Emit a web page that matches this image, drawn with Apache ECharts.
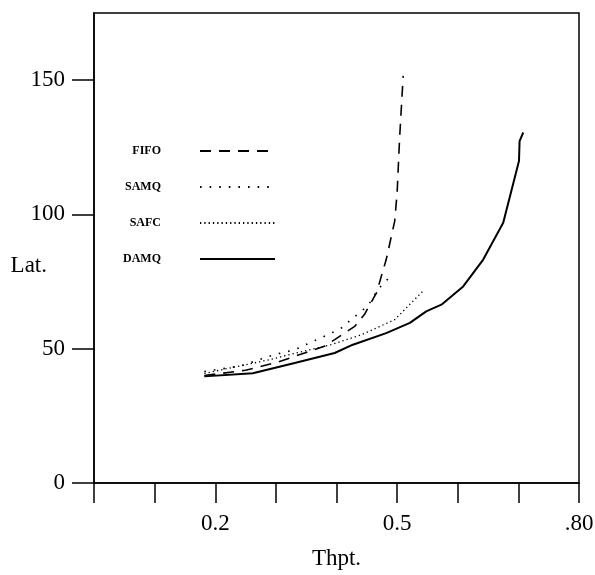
<!DOCTYPE html>
<html>
<head>
<meta charset="utf-8">
<script src="https://cdn.jsdelivr.net/npm/echarts@6/dist/echarts.min.js"></script>
<style>html,body{margin:0;padding:0;background:#fff}#c{width:595px;height:575px}</style>
</head>
<body>
<div id="c"></div>
<script>
var seriesNames = ['FIFO', 'SAMQ', 'SAFC', 'DAMQ'];
var fifoData = [[0.182,40.0],[0.25,42.0],[0.30,44.8],[0.35,48.6],[0.38,50.9],[0.397,53.4],[0.43,58.3],[0.446,62.7],[0.466,70.8],[0.482,83.2],[0.496,97.5],[0.500,108.1],[0.504,128.0],[0.510,151.6]];
var samqData = [[0.182,41.5],[0.242,43.6],[0.298,47.8],[0.331,49.6],[0.355,52.1],[0.386,55.2],[0.408,57.7],[0.424,60.8],[0.452,66.0],[0.468,72.0],[0.488,76.7]];
var safcData = [[0.182,40.8],[0.289,45.9],[0.344,49.0],[0.391,51.5],[0.441,55.2],[0.496,60.8],[0.523,67.0],[0.545,72.0]];
var damqData = [[0.182,39.7],[0.262,40.9],[0.331,44.7],[0.397,48.4],[0.427,51.5],[0.482,55.8],[0.521,59.6],[0.548,63.9],[0.573,66.4],[0.609,73.2],[0.642,83.2],[0.675,96.9],[0.689,109.3],[0.701,119.9],[0.702,127.3],[0.708,130.5]];
var xTickLabels = {'0.2':'0.2','0.5':'0.5','0.8':'.80'};
var yTickLabels = [0, 50, 100, 150];

var serif = 'Liberation Serif';
var chart = echarts.init(document.getElementById('c'), null, {renderer:'canvas'});
function mk(name, data, lineType, width) {
  return {name:name, type:'line', data:data, showSymbol:false, symbol:'none', smooth:false,
    lineStyle:{color:'#000', width:width, type:lineType}, itemStyle:{color:'#000'}};
}
chart.setOption({
  animation:false,
  backgroundColor:'#fff',
  grid:{left:94, right:16, top:13, bottom:92, containLabel:false, outerBoundsMode:'none',
    show:true, borderColor:'#000', borderWidth:1.5},
  legend:{
    orient:'vertical', left:118, top:140, align:'right', itemWidth:75, itemHeight:14, itemGap:24,
    data:seriesNames,
    itemStyle:{opacity:0},
    textStyle:{fontFamily:serif, fontSize:12, fontWeight:'bold', color:'#000', width:75, align:'center', padding:[0,34,0,0]}
  },
  xAxis:{
    type:'value', min:0, max:0.8, interval:0.1,
    name:'Thpt.', nameLocation:'middle', nameGap:64,
    nameTextStyle:{fontFamily:serif, fontSize:23, color:'#000'},
    axisLine:{lineStyle:{color:'#000', width:1.5}},
    axisTick:{inside:false, length:20, lineStyle:{color:'#000', width:1.5}},
    axisLabel:{fontFamily:serif, fontSize:23, color:'#000', margin:29,
      formatter:function(v){var k=(Math.round(v*10)/10).toString(); return xTickLabels[k]||'';}},
    splitLine:{show:false}
  },
  yAxis:{
    type:'value', min:0, max:175, interval:50,
    name:'Lat.', nameLocation:'middle', nameGap:47, nameRotate:0, nameMoveOverlap:false,
    nameTextStyle:{fontFamily:serif, fontSize:23, color:'#000', align:'right', verticalAlign:'top', lineHeight:36},
    axisLine:{show:true, lineStyle:{color:'#000', width:1.5}},
    axisTick:{show:true, length:22, lineStyle:{color:'#000', width:1.5}},
    axisLabel:{fontFamily:serif, fontSize:23, color:'#000', margin:29, showMaxLabel:false,
      formatter:function(v){return yTickLabels.indexOf(v)>=0 ? String(v) : '';}},
    splitLine:{show:false}
  },
  series:[
    mk('FIFO', fifoData, [11,8], 1.6),
    mk('SAMQ', samqData, [1.6,8], 1.6),
    mk('SAFC', safcData, [1.3,3], 1.3),
    mk('DAMQ', damqData, 'solid', 2)
  ]
});
</script>
</body>
</html>
